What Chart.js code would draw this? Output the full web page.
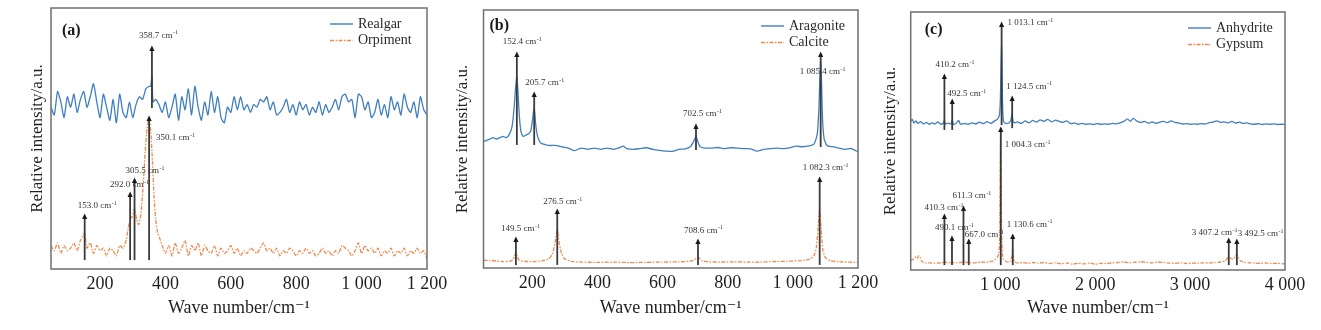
<!DOCTYPE html>
<html>
<head>
<meta charset="utf-8">
<script src="https://cdn.jsdelivr.net/npm/chart.js@4.4.1/dist/chart.umd.min.js"></script>
<style>
  html, body { margin: 0; padding: 0; background: #ffffff; }
  body { width: 1321px; height: 330px; position: relative; overflow: hidden; }
  canvas { position: absolute; top: 0; }
</style>
</head>
<body>
<canvas id="pa" width="460" height="330" style="left:0px"></canvas>
<canvas id="pb" width="460" height="330" style="left:440px"></canvas>
<canvas id="pc" width="441" height="330" style="left:880px"></canvas>
<script>
// ---------------- DATA ----------------
// Panel (a): Realgar / Orpiment
const realgarX = [50,60,70,80,90,100,110,120,130,140,150,160,170,180,190,200,210,220,230,240,250,260,270,280,290,300,310,320,330,340,350,355,358.7,362,370,380,390,400,410,420,430,440,450,460,470,480,490,500,510,520,530,540,550,560,570,580,590,600,610,620,630,640,650,660,670,680,690,700,710,720,730,740,750,760,770,780,790,800,810,820,830,840,850,860,870,880,890,900,910,920,930,940,950,960,970,980,990,1000,1010,1020,1030,1040,1050,1060,1070,1080,1090,1100,1110,1120,1130,1140,1150,1160,1170,1180,1190,1200];
const realgarY = [62,59,68,64,58,66,62,67,60,65,68,62,66,71,64,58,67,62,57,65,56,67,60,58,64,58,63,66,65,69,70,70,74,64,65,63,60,64,58,62,67,57,66,61,69,59,70,62,57,64,59,68,60,66,58,56,62,60,66,61,66,61,63,60,63,62,65,64,66,61,64,59,60,62,65,60,63,59,64,61,63,59,62,60,64,59,63,60,62,65,61,66,67,64,65,58,67,66,61,64,58,60,65,59,63,58,66,61,64,59,67,62,60,64,58,66,61,59];
const orpimentX = [50,60,70,80,90,100,110,120,130,140,150,153,160,170,180,190,200,210,220,230,240,250,260,270,280,285,292,298,305.5,312,318,325,332,338,344,350.1,355,360,365,370,376,382,390,400,410,420,430,440,450,460,470,480,490,500,510,520,530,540,550,560,570,580,590,600,610,620,630,640,650,660,670,680,690,700,710,720,730,740,750,760,770,780,790,800,810,820,830,840,850,860,870,880,890,900,910,920,930,940,950,960,970,980,990,1000,1010,1020,1030,1040,1050,1060,1070,1080,1090,1100,1110,1120,1130,1140,1150,1160,1170,1180,1190,1200];
const orpimentY = [9,7,10,6,9,7,8,10,7,11,13,14,8,10,6,9,7,8,5,8,7,5,9,8,11,15,19,20,23,19,17,21,32,45,54,58,53,42,28,19,14,12,9,6,9,5,10,6,8,11,5,9,7,10,5,9,7,6,9,5,8,6,7,9,6,8,5,7,6,8,7,6,8,10,7,8,6,8,5,7,6,8,7,5,7,6,8,6,7,5,6,8,6,7,5,7,6,9,8,7,5,7,10,6,9,7,8,6,8,5,7,6,8,5,7,6,8,5,7,6,8,6,7,4];
const aPeakX    = [358.7, 153.0, 292.0, 305.5, 350.1];
const aPeakTop  = [85.1, 20.7, 29.1, 34.5, 58.2];
const aPeakBase = [61.7, 3.4, 3.4, 3.4, 3.4];

// Panel (b): Aragonite / Calcite
const aragoniteX = [50,60,70,80,90,100,110,120,130,138,144,148,152.4,156,160,165,172,180,188,195,200,205.7,210,216,225,235,250,270,290,310,330,350,370,390,410,430,450,470,480,490,510,530,550,570,590,610,630,650,670,685,695,702.5,708,715,730,750,770,790,810,830,850,870,890,910,930,950,970,990,1010,1030,1050,1065,1075,1080,1083,1085.4,1088,1091,1096,1105,1120,1140,1160,1180,1200];
const aragoniteY = [49,49.5,50,50.5,50,50.5,51,50.5,52,55,62,69,74,68,59,53,51,51.5,52,53,57,62,56,51,48.5,48,47.5,47.5,47,46.5,45.5,46.5,46,46.5,46,46.5,46,46.8,47.2,46.3,46,46.3,46.6,46,45.6,45.3,45.2,46,46.2,47,49,51,49,47,46.5,46.5,46.7,46.3,46.6,46.5,46.3,46.2,45.3,46,46.3,46.5,46.3,46.6,47.2,47,47.3,48,52,62,74,80,72,58,50,47.5,47,46.5,46,46.3,45];
const calciteX = [50,70,90,110,130,140,145,149.5,154,160,175,200,230,250,262,270,276.5,282,290,300,320,350,400,450,500,550,600,650,680,695,703,708.6,714,722,740,780,820,860,900,940,980,1020,1050,1065,1072,1077,1082.3,1087,1092,1100,1115,1140,1170,1200];
const calciteY = [3,2.9,2.7,2.5,2.6,3.3,4.5,6,4.3,3,2.6,2.5,2.8,3.5,5.5,10,15,10,5.5,3.5,2.6,2.3,2.2,2.3,2.1,2.2,2.3,2.4,2.6,3,3.7,4.2,3.6,2.8,2.4,2.3,2.4,2.3,2.3,2.5,2.6,2.8,3.3,4.8,8,15,22.5,15,7,4,2.8,2.4,2.3,2.2];
const bPeakX    = [152.4, 205.7, 702.5, 1085.4, 149.5, 276.5, 708.6, 1082.3];
const bPeakTop  = [83.3, 67.8, 55.4, 83.3, 11.6, 22.5, 10.9, 34.9];
const bPeakBase = [47.7, 47.7, 45.7, 46.9, 1.2, 1.2, 1.2, 1.2];

// Panel (c): Anhydrite / Gypsum
const anhydriteX = [55,70,90,110,130,160,190,220,250,280,310,340,370,400,410.2,420,450,480,492.5,505,530,560,580,620,660,700,740,780,820,860,900,940,970,990,1000,1006,1013.1,1019,1025,1035,1060,1090,1110,1118,1124.5,1131,1145,1180,1220,1260,1300,1340,1380,1420,1460,1500,1540,1580,1620,1660,1700,1740,1780,1820,1860,1900,1940,1980,2020,2060,2100,2140,2180,2220,2260,2300,2340,2370,2400,2440,2480,2520,2560,2600,2640,2680,2720,2760,2800,2840,2880,2920,2960,3000,3040,3080,3120,3160,3200,3240,3280,3320,3360,3400,3440,3480,3520,3560,3600,3640,3680,3720,3760,3800,3840,3880,3920,3960,4000];
const anhydriteY = [57.5,58.5,57,57.8,56.8,57.5,56.6,57.2,56.5,57,56.6,57.4,56.5,57,58,56.6,56.9,56.6,58.2,56.5,56.8,58,56.5,56.8,56.5,57,56.6,57.3,56.7,57.5,56.8,57.8,58.5,60,66,77,87,74,62,57.5,56.8,57,58,59.5,60.5,58.2,57,57.4,56.8,57.8,57,58,57.3,58.2,57.6,58.4,57.4,58.1,57.6,57.2,57.8,56.7,57,56.5,56.8,56.5,56.6,56.4,56.7,56.5,56.6,56.5,56.8,56.6,57,57.6,58.6,57.6,58.8,57.7,57.2,57.6,56.9,57.4,56.8,57.3,57.6,57.1,57.8,57.2,57,56.6,56.7,56.5,56.6,56.5,56.7,56.6,57.1,57.3,57.8,57.2,57.4,57,57.6,56.9,57.3,56.8,57,56.6,56.5,56.7,56.4,56.6,56.5,56.6,56.4,56.5,56.4];
const gypsumX = [55,70,90,110,125,140,155,170,190,220,260,300,340,380,400,410.3,420,450,480,490.1,500,540,580,600,611.3,622,650,667,680,720,760,800,840,880,920,950,970,985,995,1000,1004.3,1008,1013,1022,1035,1060,1090,1110,1122,1130.6,1138,1150,1190,1240,1290,1340,1400,1460,1520,1580,1640,1700,1760,1820,1880,1940,2000,2060,2120,2180,2240,2300,2360,2420,2480,2540,2600,2660,2720,2780,2840,2900,2960,3020,3080,3140,3200,3260,3320,3370,3395,3407.2,3420,3450,3475,3492.5,3505,3530,3570,3620,3680,3740,3800,3860,3920,3980,4000];
const gypsumY = [3.5,4,4.2,5.2,4.6,5.6,4.8,3.5,2.9,2.7,2.8,2.6,2.7,2.8,3,3.6,3,2.8,2.9,3.4,2.9,2.8,2.9,3.1,3.8,3.1,2.9,3.4,2.9,2.8,2.9,3.1,3,3.2,3.4,4.2,5,6.5,15,40,55,40,15,6,4.2,3.3,3,3.5,5.5,8.5,5,3.2,2.7,2.9,2.6,2.9,2.6,2.9,2.5,2.8,2.4,2.7,2.3,2.6,2.4,2.7,2.3,2.6,2.5,2.8,2.9,3.1,2.8,3,3.2,3,2.8,3.1,2.9,2.7,2.6,2.8,2.5,2.7,2.6,2.8,2.7,2.9,3.1,3.6,4.8,5.8,4.8,4.2,5,6.2,5,3.6,3,2.8,2.7,2.6,2.7,2.5,2.6,2.4,2.5];
const cPeakX    = [410.2, 492.5, 1013.1, 1124.5, 410.3, 490.1, 611.3, 667.0, 1004.3, 1130.6, 3407.2, 3492.5];
const cPeakTop  = [75.6, 65.9, 95.7, 67.1, 21.3, 12.8, 24.4, 11.6, 55.0, 13.6, 12.0, 11.6];
const cPeakBase = [54.3, 54.3, 56.2, 55.0, 1.9, 1.9, 1.9, 1.9, 1.9, 1.9, 1.9, 1.9];

const wnTicksSmall = [200, 400, 600, 800, 1000, 1200];
const wnTicksLarge = [1000, 2000, 3000, 4000];

// ---------------- LAYOUT / STYLE (kept apart from data) ----------------
const aLabelOffsets = [[-13,-11],[-7,-9],[-20,-8],[-9,-8],[7,21]];
const bLabelOffsets = [[-14,-11],[-9,-10],[-13,-11],[-21,19],[-15,-9],[-14,-8],[-14,-9],[-17,-10]];
const cLabelOffsets = [[-9,-10],[-5,-6],[6,0],[-6,-10],[-20,-7],[-17,-9],[-11,-11],[-4,-5],[4,17],[-6,-10],[-37,-6],[1,-6]];

const SERIF = "'Liberation Serif', 'Times New Roman', 'DejaVu Serif', serif";
const BLUE = '#3f7fc0';
const ORANGE = '#ee8a4c';
Chart.defaults.font.family = SERIF;
Chart.defaults.color = '#222';

function groupThousands(intPart) {
  return intPart >= 1000 ? Math.floor(intPart / 1000) + ' ' + String(intPart % 1000).padStart(3, '0') : String(intPart);
}
function fmtTick(v) { return groupThousands(Math.round(v)); }
function fmtPeak(v) {
  const s = v.toFixed(1);
  const [ip, dp] = s.split('.');
  return groupThousands(parseInt(ip, 10)) + '.' + dp;
}

function pts(xs, ys) { return xs.map((x, i) => ({ x: x, y: ys[i] })); }

const decor = {
  id: 'decor',
  afterDatasetsDraw(chart, args, o) {
    const ctx = chart.ctx, a = chart.chartArea;
    const xs = chart.scales.x, ys = chart.scales.y;
    ctx.save();
    // frame
    ctx.strokeStyle = '#6f6f6f';
    ctx.lineWidth = 1.5;
    ctx.setLineDash([]);
    ctx.strokeRect(a.left, a.top, a.right - a.left, a.bottom - a.top);
    // peak markers
    o.peakX.forEach((pv, i) => {
      const x = xs.getPixelForValue(pv);
      const yt = ys.getPixelForValue(o.peakTop[i]);
      const yb = ys.getPixelForValue(o.peakBase[i]);
      ctx.strokeStyle = '#3a3a3a';
      ctx.lineWidth = 1.8;
      ctx.beginPath(); ctx.moveTo(x, yb); ctx.lineTo(x, yt + 3); ctx.stroke();
      ctx.fillStyle = '#1a1a1a';
      ctx.beginPath(); ctx.moveTo(x, yt - 1.5); ctx.lineTo(x - 2.6, yt + 4); ctx.lineTo(x + 2.6, yt + 4); ctx.closePath(); ctx.fill();
      const off = o.offsets[i];
      const lx = x + off[0], ly = yt + off[1];
      ctx.fillStyle = '#333';
      ctx.textBaseline = 'middle';
      ctx.textAlign = 'left';
      ctx.font = '9px ' + SERIF;
      const main = fmtPeak(pv) + ' cm';
      ctx.fillText(main, lx, ly);
      const w = ctx.measureText(main).width;
      ctx.font = '6px ' + SERIF;
      ctx.fillText('-1', lx + w + 0.5, ly - 3);
    });
    // legend
    chart.data.datasets.forEach((ds, i) => {
      const y = a.top + 16 + i * 16.5;
      ctx.strokeStyle = ds.borderColor;
      ctx.lineWidth = 1.4;
      ctx.setLineDash(ds.borderDash || []);
      ctx.beginPath(); ctx.moveTo(a.right - 97, y); ctx.lineTo(a.right - 74, y); ctx.stroke();
      ctx.setLineDash([]);
      ctx.fillStyle = '#2a2a2a';
      ctx.font = '14px ' + SERIF;
      ctx.textBaseline = 'middle';
      ctx.textAlign = 'left';
      ctx.fillText(ds.label, a.right - 69, y);
    });
    // panel tag
    ctx.font = 'bold 16px ' + SERIF;
    ctx.fillStyle = '#1a1a1a';
    ctx.textBaseline = 'middle';
    ctx.fillText(o.tag, a.left + o.tagPos[0], a.top + o.tagPos[1]);
    ctx.restore();
  }
};

function makePanel(id, p) {
  new Chart(document.getElementById(id), {
    type: 'line',
    data: {
      datasets: [
        { label: p.names[0], data: pts(p.s1x, p.s1y), borderColor: BLUE, borderWidth: 1.3, pointRadius: 0, tension: 0.2 },
        { label: p.names[1], data: pts(p.s2x, p.s2y), borderColor: ORANGE, borderWidth: 1.3, borderDash: [4, 1.5, 1.5, 1.5], pointRadius: 0, tension: 0.2 }
      ]
    },
    options: {
      responsive: false,
      animation: false,
      events: [],
      layout: { autoPadding: false, padding: p.pad },
      plugins: {
        legend: { display: false },
        tooltip: { enabled: false },
        decor: { peakX: p.peakX, peakTop: p.peakTop, peakBase: p.peakBase, offsets: p.offsets, tag: p.tag, tagPos: p.tagPos }
      },
      scales: {
        x: {
          type: 'linear', min: p.xmin, max: p.xmax,
          afterBuildTicks: (s) => { s.ticks = p.ticks.map(v => ({ value: v })); },
          afterFit: (s) => { s.height = p.xh; },
          grid: { display: false, drawTicks: false },
          border: { display: false },
          ticks: { padding: 4, font: { size: 18 }, color: '#1e1e1e', maxRotation: 0, autoSkip: false, callback: (v) => fmtTick(v) },
          title: { display: true, text: 'Wave number/cm\u207B\u00B9', font: { size: 18 }, color: '#1e1e1e', padding: 0 }
        },
        y: {
          min: 0, max: 100,
          afterFit: (s) => { s.width = p.yw; },
          grid: { display: false, drawTicks: false },
          border: { display: false },
          ticks: { display: false },
          title: { display: true, text: 'Relative intensity/a.u.', font: { size: 17 }, color: '#1e1e1e', padding: 0 }
        }
      }
    },
    plugins: [decor]
  });
}

makePanel('pa', {
  names: ['Realgar', 'Orpiment'],
  s1x: realgarX, s1y: realgarY, s2x: orpimentX, s2y: orpimentY,
  peakX: aPeakX, peakTop: aPeakTop, peakBase: aPeakBase, offsets: aLabelOffsets,
  xmin: 50, xmax: 1200, ticks: wnTicksSmall,
  pad: { left: 27, top: 8, right: 33, bottom: 11 }, yw: 24, xh: 50,
  tag: '(a)', tagPos: [11, 23]
});
makePanel('pb', {
  names: ['Aragonite', 'Calcite'],
  s1x: aragoniteX, s1y: aragoniteY, s2x: calciteX, s2y: calciteY,
  peakX: bPeakX, peakTop: bPeakTop, peakBase: bPeakBase, offsets: bLabelOffsets,
  xmin: 50, xmax: 1200, ticks: wnTicksSmall,
  pad: { left: 12, top: 10, right: 42, bottom: 11 }, yw: 31.5, xh: 51,
  tag: '(b)', tagPos: [6, 16]
});
makePanel('pc', {
  names: ['Anhydrite', 'Gypsum'],
  s1x: anhydriteX, s1y: anhydriteY, s2x: gypsumX, s2y: gypsumY,
  peakX: cPeakX, peakTop: cPeakTop, peakBase: cPeakBase, offsets: cLabelOffsets,
  xmin: 55, xmax: 4000, ticks: wnTicksLarge,
  pad: { left: 0, top: 12, right: 36, bottom: 11 }, yw: 30.7, xh: 49,
  tag: '(c)', tagPos: [14, 18]
});
</script>
</body>
</html>
